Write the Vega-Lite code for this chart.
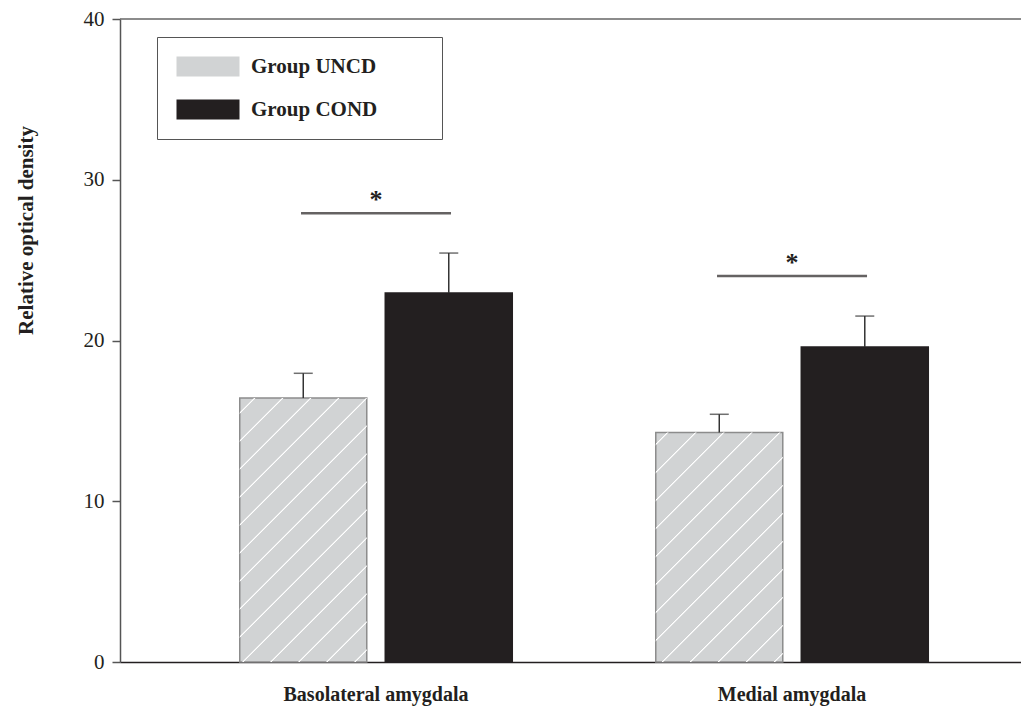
{
  "$schema": "https://vega.github.io/schema/vega-lite/v6.json",
  "autosize": "none",
  "width": 901,
  "height": 643,
  "padding": {"left": 120, "top": 19, "right": 0, "bottom": 48},
  "background": "white",
  "config": {
    "view": {"stroke": null},
    "font": "Liberation Serif"
  },
  "datasets": {
    "bars": [
      {"region": "Basolateral amygdala", "group": "Group UNCD", "value": 16.42, "upper": 17.96},
      {"region": "Basolateral amygdala", "group": "Group COND", "value": 22.96, "upper": 25.44},
      {"region": "Medial amygdala", "group": "Group UNCD", "value": 14.28, "upper": 15.41},
      {"region": "Medial amygdala", "group": "Group COND", "value": 19.6, "upper": 21.52}
    ],
    "sig": [
      {"region": "Basolateral amygdala", "sig": 27.91, "label": "*"},
      {"region": "Medial amygdala", "sig": 24.01, "label": "*"}
    ]
  },
  "encoding": {
    "x": {
      "field": "region", "type": "nominal",
      "scale": {"domain": ["Basolateral amygdala", "Medial amygdala"], "paddingInner": 0, "paddingOuter": 0.0829, "align": 0.696},
      "axis": {"title": null, "ticks": false, "labelAngle": 0, "labelLimit": 400, "labelFont": "Liberation Serif", "labelFontWeight": "bold", "labelFontSize": 20, "labelColor": "#231f20", "labelPadding": 22, "domainColor": "#231f20", "domainWidth": 1.5}
    },
    "y": {
      "type": "quantitative",
      "scale": {"domain": [0, 40], "nice": false},
      "axis": {"title": "Relative optical density", "values": [0, 10, 20, 30, 40], "grid": false, "domainColor": "#555555", "domainWidth": 1.5, "tickColor": "#555555", "tickSize": 8, "tickWidth": 1.5, "labelFont": "Liberation Serif", "labelFontSize": 21, "labelColor": "#231f20", "labelPadding": 8, "titleFont": "Liberation Serif", "titleFontWeight": "bold", "titleFontSize": 21, "titleColor": "#231f20", "titleAngle": -90, "titleAlign": "center", "titleBaseline": "alphabetic", "titleX": -88, "titleY": 211}
    }
  },
  "layer": [
    {
      "data": {"values": [{}]},
      "mark": {"type": "rule", "color": "#666666", "strokeWidth": 1.5},
      "encoding": {"x": null, "y": {"datum": 40}}
    },
    {
      "data": {"name": "bars"},
      "mark": {"type": "bar", "strokeWidth": 1.5},
      "encoding": {
        "xOffset": {"field": "group", "type": "nominal", "scale": {"domain": ["Group UNCD", "Group COND"], "paddingInner": 0.1271, "paddingOuter": 0.4931}},
        "y": {"field": "value", "type": "quantitative"},
        "color": {
          "field": "group", "type": "nominal",
          "scale": {"domain": ["Group UNCD", "Group COND"], "range": ["#d1d3d4", "#231f20"]},
          "legend": {
            "title": null, "orient": "none", "legendX": 37, "legendY": 18,
            "strokeColor": "#555555", "padding": 19, "rowPadding": 21,
            "symbolType": "M-1,-1H5.3V1H-1Z", "symbolSize": 400, "symbolStrokeWidth": 0,
            "labelOffset": 54, "labelLimit": 400, "labelFont": "Liberation Serif", "labelFontWeight": "bold", "labelFontSize": 21, "labelColor": "#231f20",
            "labelExpr": "datum.label + '\u2800\u2800\u2800'"
          }
        },
        "stroke": {
          "field": "group", "type": "nominal",
          "scale": {"domain": ["Group UNCD", "Group COND"], "range": ["#8c8c8c", "#231f20"]},
          "legend": null
        }
      }
    },
    {
      "data": {"name": "bars"},
      "transform": [{"filter": "datum.region === 'Basolateral amygdala' && datum.group === 'Group UNCD'"}],
      "mark": {
        "type": "bar", "strokeWidth": 0,
        "fill": {
          "gradient": "linear", "x1": 0, "y1": 0, "x2": 0.5786, "y2": 1.2027,
          "stops": [
            {"offset": 0, "color": "rgba(255,255,255,0)"},
            {"offset": 0.03504, "color": "rgba(255,255,255,0)"}, {"offset": 0.03760, "color": "#ffffff"}, {"offset": 0.03913, "color": "#ffffff"}, {"offset": 0.04169, "color": "rgba(255,255,255,0)"},
            {"offset": 0.10665, "color": "rgba(255,255,255,0)"}, {"offset": 0.10921, "color": "#ffffff"}, {"offset": 0.11074, "color": "#ffffff"}, {"offset": 0.11330, "color": "rgba(255,255,255,0)"},
            {"offset": 0.17826, "color": "rgba(255,255,255,0)"}, {"offset": 0.18082, "color": "#ffffff"}, {"offset": 0.18235, "color": "#ffffff"}, {"offset": 0.18491, "color": "rgba(255,255,255,0)"},
            {"offset": 0.24987, "color": "rgba(255,255,255,0)"}, {"offset": 0.25243, "color": "#ffffff"}, {"offset": 0.25396, "color": "#ffffff"}, {"offset": 0.25652, "color": "rgba(255,255,255,0)"},
            {"offset": 0.32148, "color": "rgba(255,255,255,0)"}, {"offset": 0.32404, "color": "#ffffff"}, {"offset": 0.32558, "color": "#ffffff"}, {"offset": 0.32813, "color": "rgba(255,255,255,0)"},
            {"offset": 0.39309, "color": "rgba(255,255,255,0)"}, {"offset": 0.39565, "color": "#ffffff"}, {"offset": 0.39719, "color": "#ffffff"}, {"offset": 0.39974, "color": "rgba(255,255,255,0)"},
            {"offset": 0.46471, "color": "rgba(255,255,255,0)"}, {"offset": 0.46726, "color": "#ffffff"}, {"offset": 0.46880, "color": "#ffffff"}, {"offset": 0.47136, "color": "rgba(255,255,255,0)"},
            {"offset": 0.53632, "color": "rgba(255,255,255,0)"}, {"offset": 0.53887, "color": "#ffffff"}, {"offset": 0.54041, "color": "#ffffff"}, {"offset": 0.54297, "color": "rgba(255,255,255,0)"},
            {"offset": 0.60793, "color": "rgba(255,255,255,0)"}, {"offset": 0.61049, "color": "#ffffff"}, {"offset": 0.61202, "color": "#ffffff"}, {"offset": 0.61458, "color": "rgba(255,255,255,0)"},
            {"offset": 0.67954, "color": "rgba(255,255,255,0)"}, {"offset": 0.68210, "color": "#ffffff"}, {"offset": 0.68363, "color": "#ffffff"}, {"offset": 0.68619, "color": "rgba(255,255,255,0)"},
            {"offset": 0.75115, "color": "rgba(255,255,255,0)"}, {"offset": 0.75371, "color": "#ffffff"}, {"offset": 0.75524, "color": "#ffffff"}, {"offset": 0.75780, "color": "rgba(255,255,255,0)"},
            {"offset": 0.82276, "color": "rgba(255,255,255,0)"}, {"offset": 0.82532, "color": "#ffffff"}, {"offset": 0.82685, "color": "#ffffff"}, {"offset": 0.82941, "color": "rgba(255,255,255,0)"},
            {"offset": 0.89437, "color": "rgba(255,255,255,0)"}, {"offset": 0.89693, "color": "#ffffff"}, {"offset": 0.89847, "color": "#ffffff"}, {"offset": 0.90102, "color": "rgba(255,255,255,0)"},
            {"offset": 0.96598, "color": "rgba(255,255,255,0)"}, {"offset": 0.96854, "color": "#ffffff"}, {"offset": 0.97008, "color": "#ffffff"}, {"offset": 0.97263, "color": "rgba(255,255,255,0)"},
            {"offset": 1, "color": "rgba(255,255,255,0)"}
          ]
        }
      },
      "encoding": {
        "xOffset": {"field": "group", "type": "nominal"},
        "y": {"field": "value", "type": "quantitative"}
      }
    },
    {
      "data": {"name": "bars"},
      "transform": [{"filter": "datum.region === 'Medial amygdala' && datum.group === 'Group UNCD'"}],
      "mark": {
        "type": "bar", "strokeWidth": 0,
        "fill": {
          "gradient": "linear", "x1": 0, "y1": 0, "x2": 0.65809, "y2": 1.18922,
          "stops": [
            {"offset": 0, "color": "rgba(255,255,255,0)"},
            {"offset": 0.03001, "color": "rgba(255,255,255,0)"}, {"offset": 0.03282, "color": "#ffffff"}, {"offset": 0.03450, "color": "#ffffff"}, {"offset": 0.03731, "color": "rgba(255,255,255,0)"},
            {"offset": 0.10856, "color": "rgba(255,255,255,0)"}, {"offset": 0.11136, "color": "#ffffff"}, {"offset": 0.11304, "color": "#ffffff"}, {"offset": 0.11585, "color": "rgba(255,255,255,0)"},
            {"offset": 0.18710, "color": "rgba(255,255,255,0)"}, {"offset": 0.18990, "color": "#ffffff"}, {"offset": 0.19159, "color": "#ffffff"}, {"offset": 0.19439, "color": "rgba(255,255,255,0)"},
            {"offset": 0.26564, "color": "rgba(255,255,255,0)"}, {"offset": 0.26844, "color": "#ffffff"}, {"offset": 0.27013, "color": "#ffffff"}, {"offset": 0.27293, "color": "rgba(255,255,255,0)"},
            {"offset": 0.34418, "color": "rgba(255,255,255,0)"}, {"offset": 0.34698, "color": "#ffffff"}, {"offset": 0.34867, "color": "#ffffff"}, {"offset": 0.35147, "color": "rgba(255,255,255,0)"},
            {"offset": 0.42272, "color": "rgba(255,255,255,0)"}, {"offset": 0.42553, "color": "#ffffff"}, {"offset": 0.42721, "color": "#ffffff"}, {"offset": 0.43001, "color": "rgba(255,255,255,0)"},
            {"offset": 0.50126, "color": "rgba(255,255,255,0)"}, {"offset": 0.50407, "color": "#ffffff"}, {"offset": 0.50575, "color": "#ffffff"}, {"offset": 0.50856, "color": "rgba(255,255,255,0)"},
            {"offset": 0.57980, "color": "rgba(255,255,255,0)"}, {"offset": 0.58261, "color": "#ffffff"}, {"offset": 0.58429, "color": "#ffffff"}, {"offset": 0.58710, "color": "rgba(255,255,255,0)"},
            {"offset": 0.65835, "color": "rgba(255,255,255,0)"}, {"offset": 0.66115, "color": "#ffffff"}, {"offset": 0.66283, "color": "#ffffff"}, {"offset": 0.66564, "color": "rgba(255,255,255,0)"},
            {"offset": 0.73689, "color": "rgba(255,255,255,0)"}, {"offset": 0.73969, "color": "#ffffff"}, {"offset": 0.74138, "color": "#ffffff"}, {"offset": 0.74418, "color": "rgba(255,255,255,0)"},
            {"offset": 0.81543, "color": "rgba(255,255,255,0)"}, {"offset": 0.81823, "color": "#ffffff"}, {"offset": 0.81992, "color": "#ffffff"}, {"offset": 0.82272, "color": "rgba(255,255,255,0)"},
            {"offset": 0.89397, "color": "rgba(255,255,255,0)"}, {"offset": 0.89677, "color": "#ffffff"}, {"offset": 0.89846, "color": "#ffffff"}, {"offset": 0.90126, "color": "rgba(255,255,255,0)"},
            {"offset": 0.97251, "color": "rgba(255,255,255,0)"}, {"offset": 0.97532, "color": "#ffffff"}, {"offset": 0.97700, "color": "#ffffff"}, {"offset": 0.97980, "color": "rgba(255,255,255,0)"},
            {"offset": 1, "color": "rgba(255,255,255,0)"}
          ]
        }
      },
      "encoding": {
        "xOffset": {"field": "group", "type": "nominal"},
        "y": {"field": "value", "type": "quantitative"}
      }
    },
    {
      "data": {"name": "bars"},
      "mark": {"type": "rule", "color": "#333333", "strokeWidth": 1.5},
      "encoding": {
        "xOffset": {"field": "group", "type": "nominal"},
        "y": {"field": "value", "type": "quantitative"},
        "y2": {"field": "upper"}
      }
    },
    {
      "data": {"name": "bars"},
      "mark": {"type": "tick", "color": "#333333", "size": 19, "thickness": 1.5},
      "encoding": {
        "xOffset": {"field": "group", "type": "nominal"},
        "y": {"field": "upper", "type": "quantitative"}
      }
    },
    {
      "data": {"name": "sig"},
      "mark": {"type": "tick", "color": "#231f20", "size": 150, "thickness": 2.5},
      "encoding": {
        "y": {"field": "sig", "type": "quantitative"}
      }
    },
    {
      "data": {"name": "sig"},
      "mark": {"type": "text", "font": "Liberation Serif", "fontWeight": "bold", "fontSize": 26, "color": "#231f20", "baseline": "alphabetic", "align": "center", "dy": -5},
      "encoding": {
        "y": {"field": "sig", "type": "quantitative"},
        "text": {"field": "label"}
      }
    }
  ]
}
